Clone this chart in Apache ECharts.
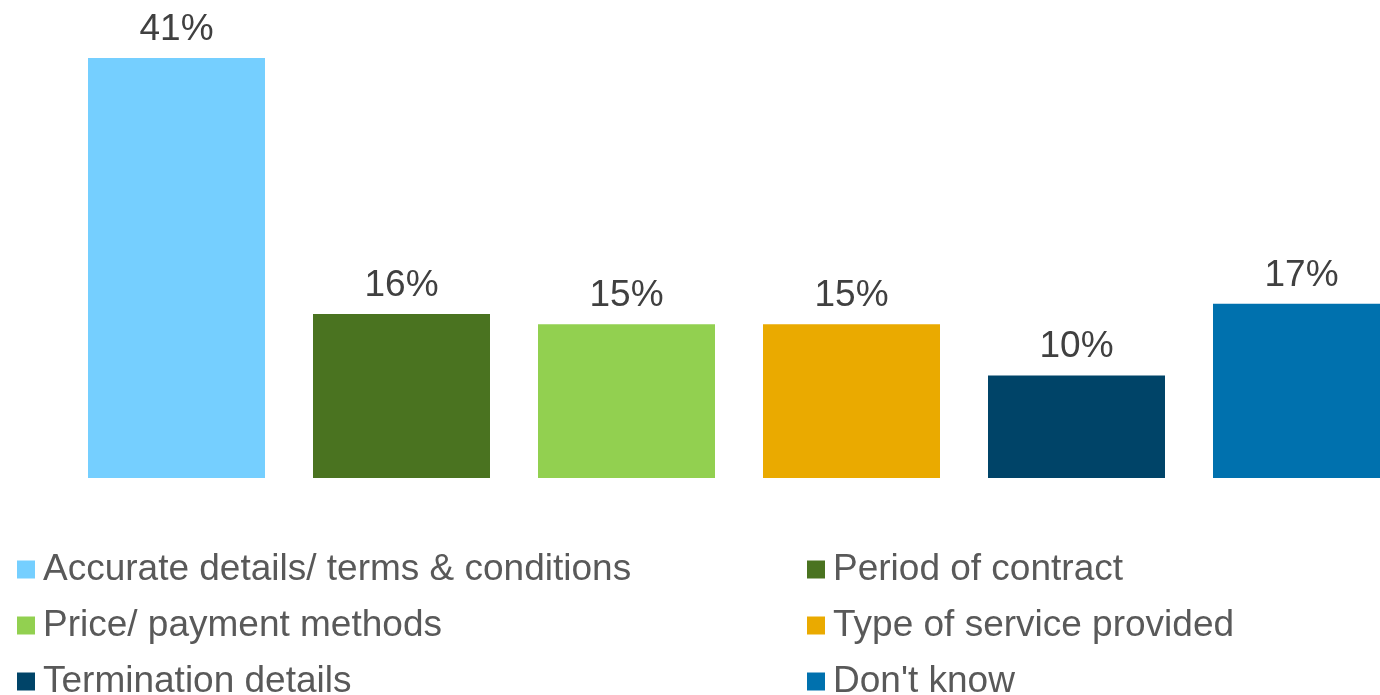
<!DOCTYPE html>
<html>
<head>
<meta charset="utf-8">
<script src="https://cdn.jsdelivr.net/npm/echarts@6/dist/echarts.min.js"></script>
<style>
  html, body { margin: 0; padding: 0; background: #ffffff; }
  #chart { width: 1380px; height: 695px; }
</style>
</head>
<body>
<div id="chart"></div>
<script>
// Survey answers and their shares (%)
const categories = [
  'Accurate details/ terms & conditions',
  'Period of contract',
  'Price/ payment methods',
  'Type of service provided',
  'Termination details',
  "Don't know"
];
const values = [41, 16, 15, 15, 10, 17];
const colors = ['#75CFFF', '#4A7320', '#92D050', '#EAAA00', '#004468', '#0071AE'];

// Legend placement: two columns, three rows
const legendLeft = [17, 807];
const legendTop = [551, 607, 663];

const series = categories.map((name, i) => ({
  name: name,
  type: 'bar',
  stack: 'all',
  barWidth: 177,
  itemStyle: { color: colors[i] },
  label: {
    show: true,
    position: 'top',
    distance: 10,
    formatter: '{c}%',
    fontFamily: 'Liberation Sans, Arial, sans-serif',
    fontSize: 37,
    color: '#404040'
  },
  data: categories.map((_, j) => (j === i ? values[i] : null))
}));

const legends = categories.map((name, i) => ({
  data: [{ name: name, icon: 'rect' }],
  left: legendLeft[i % 2],
  top: legendTop[Math.floor(i / 2)],
  padding: 0,
  itemWidth: 18,
  itemHeight: 18,
  selectedMode: false,
  textStyle: {
    fontFamily: 'Liberation Sans, Arial, sans-serif',
    fontSize: 37,
    color: '#595959',
    padding: [0, 0, 0, 3]
  }
}));

const chart = echarts.init(document.getElementById('chart'), null, { renderer: 'canvas' });
chart.setOption({
  animation: false,
  // the last category runs past the right edge of the canvas
  grid: {
    left: 64, width: 1350, top: 58, bottom: 217,
    containLabel: false,
    outerBoundsMode: 'none'
  },
  xAxis: {
    type: 'category',
    data: categories,
    axisLine: { show: false },
    axisTick: { show: false },
    axisLabel: { show: false }
  },
  yAxis: {
    type: 'value',
    min: 0,
    max: 41,
    show: false,
    splitLine: { show: false }
  },
  legend: legends,
  series: series
});
</script>
</body>
</html>
